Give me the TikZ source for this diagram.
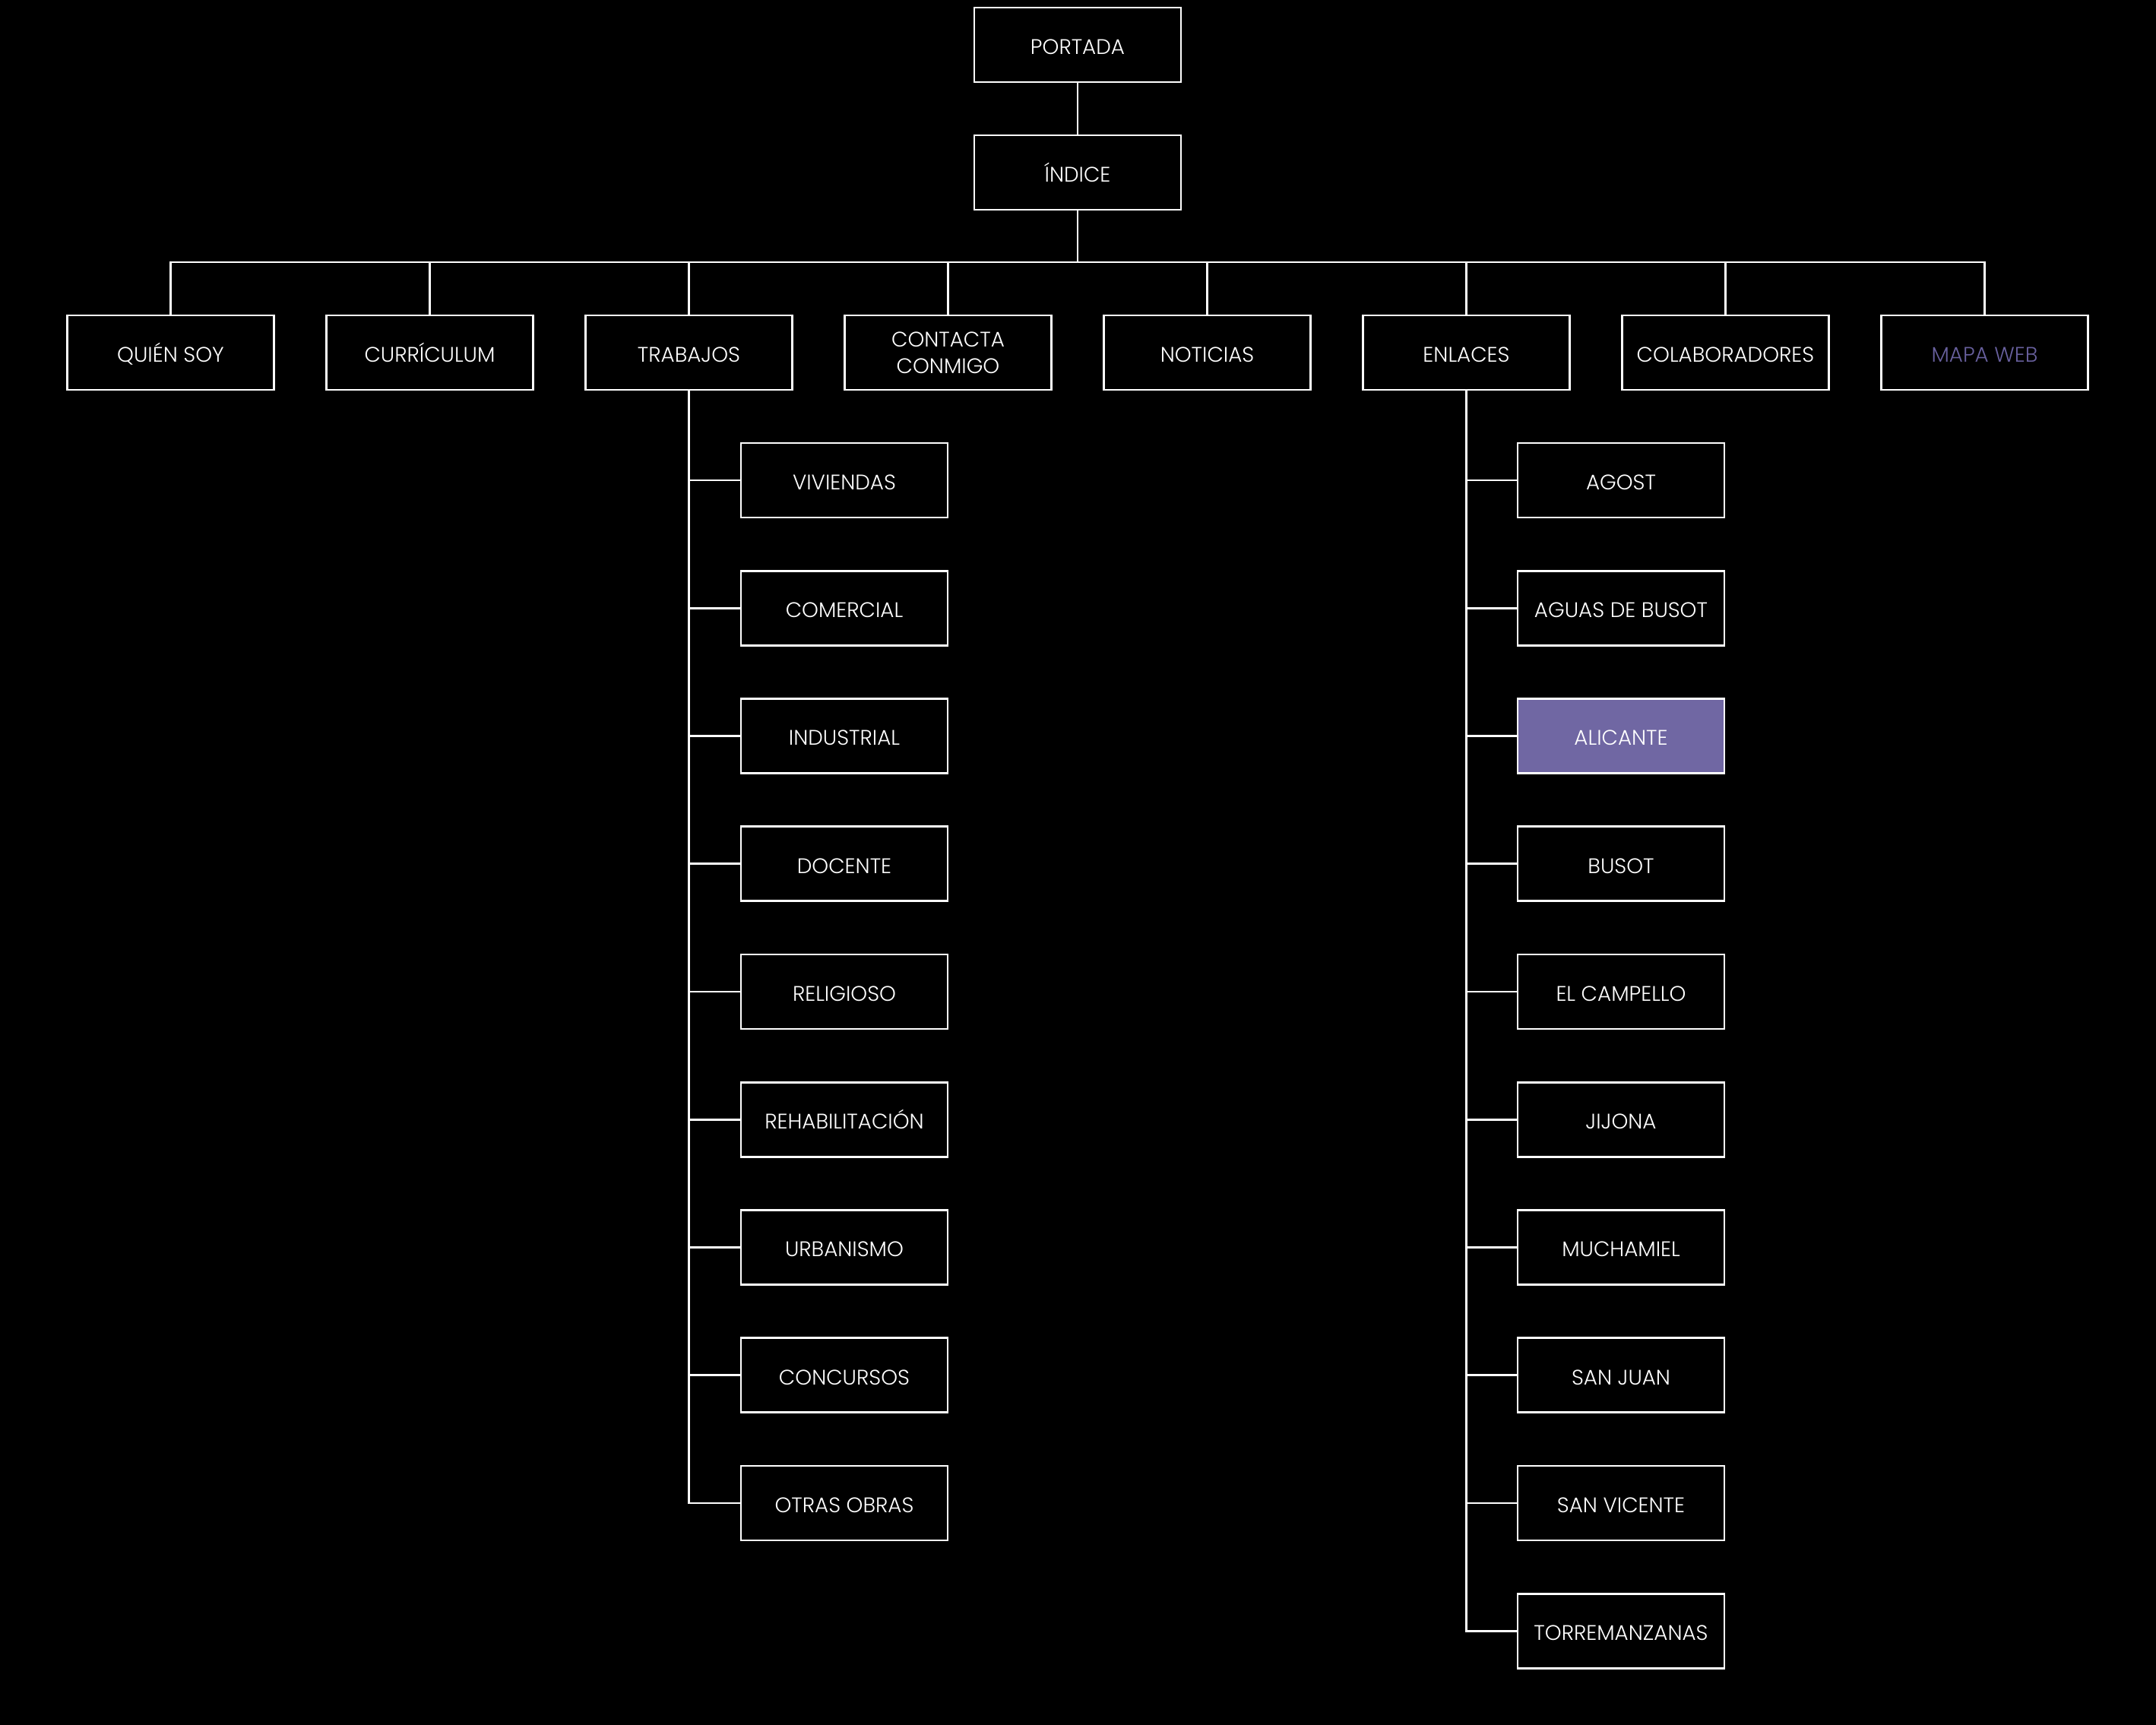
\documentclass[tikz,border=0pt]{standalone}
\usepackage{fontspec}
\setmainfont{Poppins}[UprightFont=* Light]
\definecolor{lila}{RGB}{112,103,163}
\definecolor{lilatext}{RGB}{104,96,158}
\begin{document}
\begin{tikzpicture}[x=1cm, y=1cm, every node/.style={font=\fontsize{7.9}{10}\selectfont, text=white}]
  \tikzset{
    box/.style={draw=white, line width=0.8pt, fill=black, minimum width=2.72cm, minimum height=0.98cm, align=center, inner sep=1pt},
    onebox/.style={box, text height=1.3ex, text depth=0pt},
    link/.style={draw=white, line width=0.8pt}
  }
  \fill[black] (0,0) rectangle (28.37,-22.70);
  % top
  \node[onebox] (portada) at (14.18, -0.59) {PORTADA};
  \node[onebox] (indice) at (14.18, -2.27) {ÍNDICE};
  \coordinate (bus) at (14.18, -3.45);
  % first level
  \foreach \i/\n/\t in {0/quien/QUIÉN SOY, 1/curric/CURRÍCULUM, 2/trabajos/TRABAJOS, 4/noticias/NOTICIAS, 5/enlaces/ENLACES, 6/colab/COLABORADORES}
    \node[onebox] (\n) at ({2.245+3.41*\i}, -4.64) {\t};
  \node[box] (contacta) at ({2.245+3.41*3}, -4.64) {CONTACTA\\CONMIGO};
  \node[onebox, text=lilatext] (mapa) at ({2.245+3.41*7}, -4.64) {MAPA WEB};
  % trabajos
  \foreach \k/\n/\t in {0/viv/VIVIENDAS, 1/com/COMERCIAL, 2/ind/INDUSTRIAL, 3/doc/DOCENTE, 4/rel/RELIGIOSO, 5/reh/REHABILITACIÓN, 6/urb/URBANISMO, 7/conc/CONCURSOS, 8/otras/OTRAS OBRAS}
    \node[onebox] (\n) at (11.11, {-6.32-1.6825*\k}) {\t};
  % enlaces
  \foreach \k/\n/\t in {0/agost/AGOST, 1/aguas/AGUAS DE BUSOT, 3/busot/BUSOT, 4/campello/EL CAMPELLO, 5/jijona/JIJONA, 6/mucha/MUCHAMIEL, 7/sjuan/SAN JUAN, 8/svic/SAN VICENTE, 9/torre/TORREMANZANAS}
    \node[onebox] (\n) at (21.33, {-6.32-1.6825*\k}) {\t};
  \node[onebox, fill=lila] (alic) at (21.33, {-6.32-1.6825*2}) {ALICANTE};
  % connectors
  \draw[link] (portada) -- (indice);
  \foreach \n in {quien, curric, trabajos, contacta, noticias, enlaces, colab, mapa}
    \draw[link] (indice.south) -- (bus) -| (\n.north);
  \foreach \n in {viv, com, ind, doc, rel, reh, urb, conc, otras}
    \draw[link] (trabajos.south) |- (\n.west);
  \foreach \n in {agost, aguas, alic, busot, campello, jijona, mucha, sjuan, svic, torre}
    \draw[link] (enlaces.south) |- (\n.west);
\end{tikzpicture}
\end{document}
